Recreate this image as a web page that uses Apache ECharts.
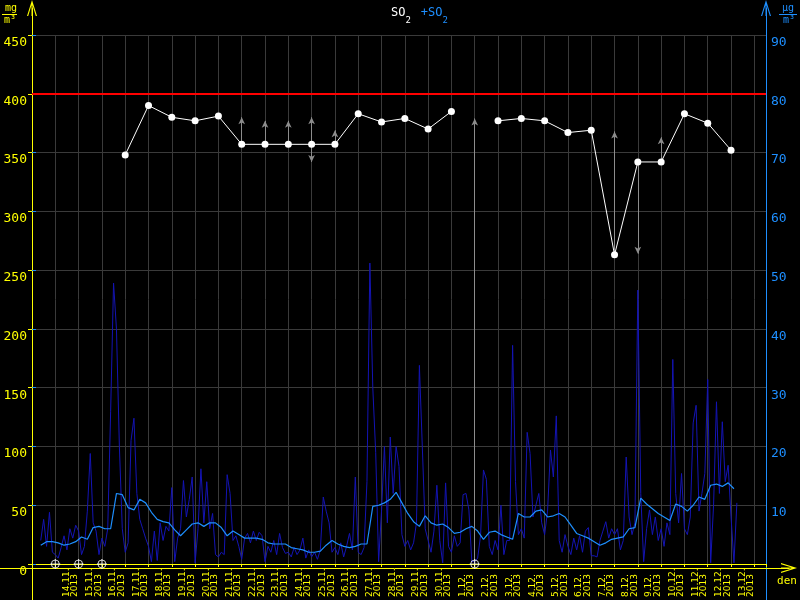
<!DOCTYPE html>
<html><head><meta charset="utf-8">
<script src="https://cdn.jsdelivr.net/npm/echarts@6/dist/echarts.min.js"></script>
<style>html,body{margin:0;padding:0;background:#000}#c{width:800px;height:600px}</style>
</head><body><div id="c"></div>
<script>
// ---- data ----
const dayLabels = ['14.11.','15.11.','16.11.','17.11.','18.11.','19.11.','20.11.','21.11.','22.11.','23.11.',
  '24.11.','25.11.','26.11.','27.11.','28.11.','29.11.','30.11.','1.12.','2.12.','3.12.','4.12.','5.12.',
  '6.12.','7.12.','8.12.','9.12.','10.12.','11.12.','12.12.','13.12.'];
const yearLabel = '2013';
const leftTickMax = 450, leftTickStep = 50;
const rightTickMax = 90, rightTickStep = 10;
const limitValue = 400;

// hourly-ish series (3 h steps), days counted from 13.11.
const hourlyStart = 0.375, hourlyStep = 0.125;
const hourlyValues = [
  20, 38, 15, 44, 10,
  8, 5, 14, 24, 12, 30, 22, 33,
  28, 8, 15, 45, 94, 35, 28, 8,
  22, 15, 30, 130, 239, 200, 100, 30,
  10, 18, 105, 124, 60, 38, 30, 22,
  15, 2, 28, 3, 35, 20, 32, 28,
  65, 2, 22, 30, 71, 40, 55, 74,
  1, 30, 81, 35, 70, 30, 43, 8,
  6, 10, 8, 76, 60, 20, 24, 15,
  4, 22, 26, 18, 28, 20, 27, 24,
  2, 15, 10, 20, 8, 26, 14, 9,
  10, 6, 14, 8, 12, 22, 5, 12,
  6, 10, 4, 12, 57, 45, 35, 10,
  14, 8, 18, 6, 15, 26, 12, 74,
  10, 8, 14, 70, 256, 150, 95, 2,
  45, 100, 35, 108, 60, 100, 83, 25,
  15, 20, 12, 18, 35, 169, 100, 30,
  20, 10, 28, 67, 20, 1, 69, 15,
  10, 24, 15, 18, 59, 60, 46, 2,
  2, 5, 24, 80, 72, 15, 8, 20,
  12, 50, 8, 20, 20, 186, 70, 25,
  30, 22, 112, 94, 40, 50, 60, 35,
  25, 45, 97, 74, 126, 20, 10, 25,
  15, 8, 22, 12, 24, 10, 28, 31,
  7, 7, 6, 20, 28, 36, 22, 30,
  25, 30, 12, 20, 91, 40, 25, 35,
  233, 60, 2, 30, 46, 25, 40, 20,
  30, 15, 35, 25, 174, 60, 35, 77,
  30, 25, 40, 120, 135, 45, 60, 77,
  157, 1, 50, 138, 60, 121, 70, 84,
  40, 1, 52
];

// running average (6 h steps)
const avgStart = 0.375, avgStep = 0.25;
const avgValues = [
  16, 19, 19, 18, 16, 17, 19, 23, 21, 31, 32, 30, 30, 60, 59, 48, 46, 55, 52, 44,
  38, 36, 35, 29, 24, 29, 34, 35, 32, 35, 35, 31, 24, 28, 25, 22, 22, 22, 21, 18,
  17, 17, 17, 14, 13, 12, 10, 10, 11, 16, 20, 17, 15, 14, 15, 17, 17, 49, 50, 52,
  55, 61, 52, 43, 36, 32, 41, 35, 33, 34, 31, 26, 27, 30, 32, 28, 21, 27, 28, 25,
  23, 21, 43, 40, 40, 45, 46, 40, 41, 43, 40, 33, 26, 24, 22, 19, 16, 18, 21, 22,
  23, 30, 31, 56, 51, 47, 43, 40, 37, 51, 49, 45, 50, 57, 55, 67, 68, 66, 69, 64
];

// daily values
const dailyDays = [4,5,6,7,8,9,10,11,12,13,14,15,16,17,18,19,20,21,22,23,24,25,26,27,28,29,30];
const dailyValues = [348,390,380,377,381,357,357,357,357,357,383,376,379,370,385,null,377,379,377,367,369,263,342,342,383,375,352];

// range arrows
const arrowDays = [9,10,11,12,12,13,19,25,26,27];
const arrowFrom = [357,357,357,357,357,357,0,263,342,342];
const arrowTo   = [380,377,377,380,342,369,379,368,264,363];

// days without daily value
const missingDays = [1,2,3,19];

// ---- chart ----
const mono = 'DejaVu Sans Mono';
const yellow = '#ffff00', blue = '#1e8fff', gridCol = '#3a3a3a';
const arrowPath = 'path://M5,0L10,16L8.8,16L5,3.5L1.2,16L0,16Z M4.5,2L5.5,2L5.5,16L4.5,16Z';
const ringPath = 'path://M1,5A4,4 0 1,0 9,5A4,4 0 1,0 1,5Z M5,0L5,10 M0,5L10,5';
const labelOffset = 1.66;

const chart = echarts.init(document.getElementById('c'), null, {renderer: 'canvas'});

const hourlyData = hourlyValues.map((v, i) => [hourlyStart + i * hourlyStep, v]);
const avgData = avgValues.map((v, i) => [avgStart + i * avgStep, v]);
const dailyData = dailyDays.map((d, i) => [d, dailyValues[i]]);
const arrowLines = arrowDays.map((d, i) => [
  {coord: [d, arrowFrom[i]], symbol: 'none'},
  {coord: [d, arrowTo[i]], symbol: 'arrow', symbolSize: [5, 7]}
]);

chart.setOption({
  backgroundColor: '#000',
  animation: false,
  title: {
    left: 386, top: 2,
    text: '{w|SO}{ws|2}  {b|+SO}{bs|2}',
    textStyle: {
      fontWeight: 'normal',
      rich: {
        w: {color: '#fff', fontSize: 12, fontFamily: mono, fontWeight: 'normal', verticalAlign: 'top', lineHeight: 14},
        ws: {color: '#fff', fontSize: 9, fontFamily: mono, fontWeight: 'normal', verticalAlign: 'bottom', lineHeight: 17},
        b: {color: blue, fontSize: 12, fontFamily: mono, fontWeight: 'normal', verticalAlign: 'top', lineHeight: 14},
        bs: {color: blue, fontSize: 9, fontFamily: mono, fontWeight: 'normal', verticalAlign: 'bottom', lineHeight: 17}
      }
    }
  },
  graphic: [
    {type: 'text', left: 5, top: 3, style: {text: 'mg', fill: yellow, font: '10px ' + mono}},
    {type: 'line', shape: {x1: 2, y1: 14.5, x2: 17, y2: 14.5}, style: {stroke: yellow, lineWidth: 1}},
    {type: 'text', left: 4, top: 15, style: {text: 'm³', fill: yellow, font: '10px ' + mono}},
    {type: 'text', left: 782, top: 3, style: {text: 'µg', fill: blue, font: '10px ' + mono}},
    {type: 'line', shape: {x1: 779, y1: 14.5, x2: 797, y2: 14.5}, style: {stroke: blue, lineWidth: 1}},
    {type: 'text', left: 783, top: 15, style: {text: 'm³', fill: blue, font: '10px ' + mono}}
  ],
  grid: [
    {left: 32, right: 34, top: 35, bottom: 32},
    {left: 32, right: 34, top: 8, bottom: 0},
    {left: 0, right: 11, top: 0, bottom: 32}
  ],
  xAxis: [
    { // gridlines + ticks
      gridIndex: 0, type: 'value', min: 0, max: 31.5, interval: 1, position: 'bottom',
      axisLine: {show: true, lineStyle: {color: yellow}},
      axisTick: {show: true, length: 3, lineStyle: {color: yellow}},
      axisLabel: {show: false},
      splitLine: {show: true, lineStyle: {color: gridCol, width: 1}}
    },
    { // day labels
      gridIndex: 0, type: 'value', min: 0, max: 31.5, position: 'bottom',
      axisLine: {show: false}, axisTick: {show: false}, splitLine: {show: false},
      axisLabel: {
        show: true, rotate: 90, margin: 3, color: yellow,
        customValues: dayLabels.map((_, i) => i + labelOffset),
        formatter: v => '{a|' + dayLabels[Math.round(v - labelOffset)] + '}\n{a|' + yearLabel + '}',
        rich: {a: {fontFamily: 'DejaVu Sans', fontSize: 9, color: yellow, width: 30, align: 'left', lineHeight: 8.5}}
      }
    },
    {gridIndex: 1, type: 'value', min: 0, max: 1, show: false},
    {
      gridIndex: 2, type: 'value', min: 0, max: 1, position: 'bottom',
      axisLine: {show: true, onZero: false, symbol: ['none', arrowPath], symbolSize: [10, 16], lineStyle: {color: yellow}},
      axisTick: {show: false}, axisLabel: {show: false}, splitLine: {show: false},
      name: 'den', nameLocation: 'end', nameGap: -2,
      nameTextStyle: {color: yellow, fontFamily: mono, fontSize: 11, align: 'center', verticalAlign: 'top', padding: [8, 0, 0, 0]}
    }
  ],
  yAxis: [
    {
      gridIndex: 0, type: 'value', min: 0, max: leftTickMax, interval: leftTickStep, position: 'left',
      axisLine: {show: true, lineStyle: {color: yellow}},
      axisTick: {show: true, length: 4, lineStyle: {color: yellow}},
      axisLabel: {color: yellow, fontFamily: mono, fontSize: 13, margin: 5, verticalAlign: 'top', padding: [1, 0, 0, 0]},
      splitLine: {show: true, lineStyle: {color: gridCol, width: 1}}
    },
    {
      gridIndex: 0, type: 'value', min: 0, max: rightTickMax, interval: rightTickStep, position: 'right',
      axisLine: {show: true, lineStyle: {color: blue}},
      axisTick: {show: true, length: 4, lineStyle: {color: blue}},
      axisLabel: {color: blue, fontFamily: mono, fontSize: 13, margin: 5, verticalAlign: 'top', padding: [1, 0, 0, 0],
        formatter: v => v === 0 ? '' : String(v)},
      splitLine: {show: false}
    },
    {
      gridIndex: 1, type: 'value', min: 0, max: 1, position: 'left',
      axisLine: {show: true, onZero: false, symbol: ['none', arrowPath], symbolSize: [10, 16], lineStyle: {color: yellow}},
      axisTick: {show: false}, axisLabel: {show: false}, splitLine: {show: false}
    },
    {
      gridIndex: 1, type: 'value', min: 0, max: 1, position: 'right',
      axisLine: {show: true, onZero: false, symbol: ['none', arrowPath], symbolSize: [10, 16], lineStyle: {color: blue}},
      axisTick: {show: false}, axisLabel: {show: false}, splitLine: {show: false}
    },
    {gridIndex: 2, type: 'value', min: 0, max: 1, show: false}
  ],
  series: [
    {
      name: 'SO2 hourly', type: 'line', xAxisIndex: 0, yAxisIndex: 0,
      data: hourlyData, showSymbol: false, symbol: 'none',
      lineStyle: {color: '#1414b4', width: 1}, z: 2, silent: true
    },
    {
      name: 'SO2 average', type: 'line', xAxisIndex: 0, yAxisIndex: 0,
      data: avgData, showSymbol: false, symbol: 'none',
      lineStyle: {color: blue, width: 1.2}, z: 3, silent: true
    },
    {
      name: 'SO2 daily', type: 'line', xAxisIndex: 0, yAxisIndex: 0,
      data: dailyData, connectNulls: false, symbol: 'circle', symbolSize: 7,
      itemStyle: {color: '#fff'}, lineStyle: {color: '#fff', width: 1}, z: 5, silent: true,
      markLine: {
        silent: true, symbol: 'none', label: {show: false}, animation: false,
        data: [{yAxis: limitValue, lineStyle: {color: '#ff0000', width: 2, type: 'solid'}}]
      }
    },
    {
      name: 'ranges', type: 'line', xAxisIndex: 0, yAxisIndex: 0, data: [], z: 4, silent: true,
      markLine: {
        silent: true, label: {show: false}, animation: false,
        lineStyle: {color: '#8c8c8c', width: 1, type: 'solid'},
        data: arrowLines
      }
    },
    {
      name: 'missing', type: 'scatter', xAxisIndex: 0, yAxisIndex: 0,
      data: missingDays.map(d => [d, 0]), symbol: ringPath, symbolSize: 10,
      itemStyle: {color: 'rgba(0,0,0,0)', borderColor: '#fff', borderWidth: 1}, z: 6, silent: true
    }
  ]
});
</script>
</body></html>
